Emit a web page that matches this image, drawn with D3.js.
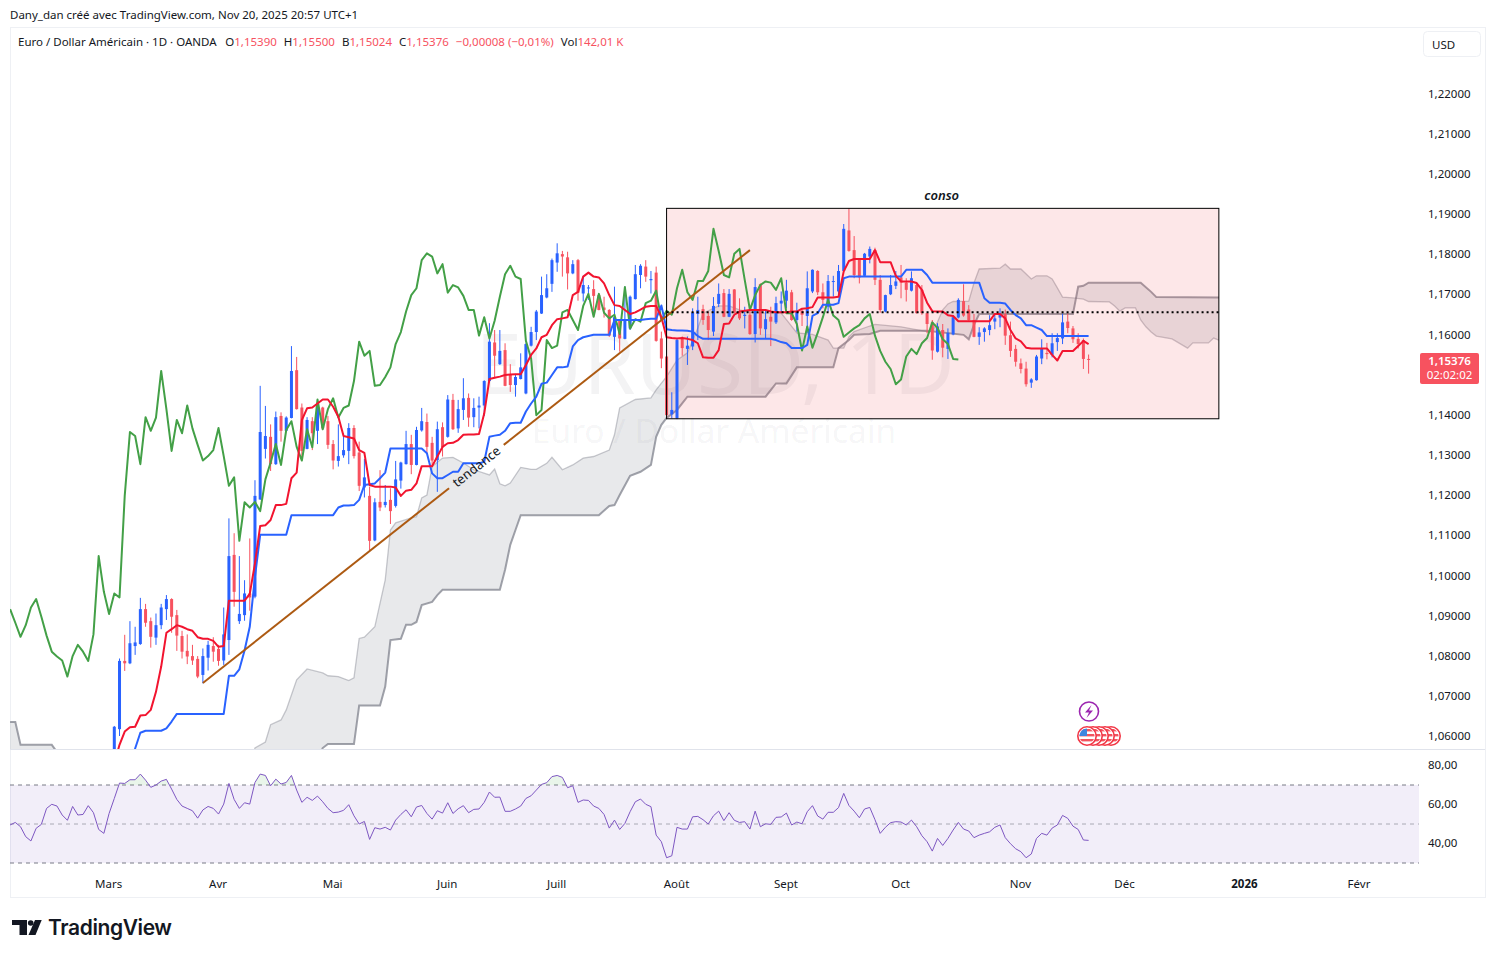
<!DOCTYPE html>
<html>
<head>
<meta charset="utf-8">
<title>EURUSD 1D</title>
<script src="https://cdn.jsdelivr.net/npm/d3@7"></script>
<style>
  html, body { margin: 0; padding: 0; background: #fff; }
  svg { display: block; font-family: "Noto Sans", sans-serif; }
</style>
</head>
<body>
<div id="chart"></div>
<script>
// candles, bar 0 = 4 March 2025, bar 187 = 20 Nov 2025
const opens = [
1.0480,1.0617,1.0787,1.0781,1.0824,1.0829,1.0916,1.0886,1.0845,1.0876,
1.0916,1.0941,1.0901,1.0849,1.0812,1.0799,1.0792,1.0752,1.0795,1.0824,
1.0817,1.0788,1.0839,1.1051,1.0886,1.0901,1.0955,1.0947,1.1189,1.1315,
1.1345,1.1277,1.1397,1.1360,1.1392,1.1511,1.1418,1.1315,1.1384,1.1360,
1.1418,1.1384,1.1327,1.1285,1.1299,1.1310,1.1367,1.1306,1.1219,1.1198,
1.1087,1.1183,1.1175,1.1188,1.1173,1.1236,1.1277,1.1327,1.1275,1.1361,
1.1382,1.1330,1.1287,1.1369,1.1345,1.1437,1.1366,1.1412,1.1442,1.1394,
1.1418,1.1423,1.1484,1.1580,1.1526,1.1561,1.1499,1.1474,1.1489,1.1453,
1.1572,1.1606,1.1652,1.1692,1.1726,1.1779,1.1800,1.1792,1.1752,1.1785,
1.1702,1.1716,1.1713,1.1698,1.1667,1.1661,1.1594,1.1634,1.1589,1.1615,
1.1688,1.1748,1.1769,1.1735,1.1754,1.1590,1.1545,1.1401,1.1391,1.1591,
1.1564,1.1570,1.1651,1.1663,1.1646,1.1607,1.1676,1.1703,1.1644,1.1712,
1.1655,1.1646,1.1649,1.1601,1.1725,1.1613,1.1644,1.1630,1.1677,1.1684,
1.1705,1.1636,1.1659,1.1646,1.1707,1.1758,1.1705,1.1669,1.1731,1.1707,
1.1758,1.1859,1.1810,1.1787,1.1746,1.1794,1.1810,1.1736,1.1657,1.1700,
1.1721,1.1742,1.1729,1.1709,1.1723,1.1711,1.1653,1.1630,1.1557,1.1611,
1.1564,1.1600,1.1642,1.1683,1.1662,1.1636,1.1594,1.1606,1.1611,1.1632,
1.1642,1.1651,1.1598,1.1564,1.1528,1.1515,1.1480,1.1486,1.1540,1.1554,
1.1549,1.1581,1.1590,1.1632,1.1615,1.1589,1.1586,1.15390]
const highs = [
1.0625,1.0793,1.0852,1.0886,1.0872,1.0944,1.0929,1.0895,1.0905,1.0929,
1.0951,1.0943,1.0914,1.0862,1.0853,1.0827,1.0799,1.0818,1.0837,1.0846,
1.0827,1.0920,1.1142,1.1105,1.1048,1.0988,1.1092,1.1237,1.1472,1.1422,
1.1376,1.1408,1.1406,1.1396,1.1571,1.1544,1.1428,1.1394,1.1394,1.1430,
1.1420,1.1397,1.1337,1.1376,1.1354,1.1379,1.1374,1.1333,1.1290,1.1221,
1.1192,1.1262,1.1225,1.1217,1.1285,1.1283,1.1360,1.1350,1.1370,1.1417,
1.1403,1.1345,1.1383,1.1381,1.1449,1.1452,1.1437,1.1491,1.1453,1.1441,
1.1445,1.1486,1.1628,1.1611,1.1611,1.1578,1.1526,1.1500,1.1553,1.1578,
1.1619,1.1661,1.1744,1.1750,1.1789,1.1827,1.1808,1.1806,1.1785,1.1788,
1.1746,1.1723,1.1735,1.1702,1.1694,1.1663,1.1719,1.1636,1.1719,1.1697,
1.1773,1.1775,1.1785,1.1758,1.1769,1.1607,1.1547,1.1456,1.1590,1.1595,
1.1595,1.1665,1.1694,1.1674,1.1657,1.1693,1.1727,1.1713,1.1713,1.1713,
1.1690,1.1669,1.1661,1.1740,1.1727,1.1661,1.1669,1.1694,1.1707,1.1736,
1.1711,1.1679,1.1665,1.1757,1.1762,1.1760,1.1727,1.1748,1.1746,1.1773,
1.1875,1.1914,1.1845,1.1788,1.1803,1.1819,1.1816,1.1748,1.1699,1.1748,
1.1758,1.1773,1.1740,1.1757,1.1727,1.1723,1.1654,1.1636,1.1628,1.1626,
1.1615,1.1648,1.1690,1.1725,1.1673,1.1651,1.1618,1.1618,1.1648,1.1651,
1.1665,1.1662,1.1632,1.1574,1.1540,1.1532,1.1491,1.1549,1.1588,1.1579,
1.1603,1.1603,1.1652,1.1652,1.1621,1.1603,1.1590,1.15500]
const lows = [
1.0460,1.0600,1.0762,1.0779,1.0802,1.0827,1.0872,1.0820,1.0827,1.0866,
1.0889,1.0857,1.0812,1.0793,1.0779,1.0777,1.0744,1.0731,1.0763,1.0785,
1.0775,1.0777,1.0802,1.0922,1.0879,1.0887,1.0912,1.0943,1.1188,1.1291,
1.1260,1.1275,1.1333,1.1358,1.1391,1.1413,1.1287,1.1314,1.1312,1.1327,
1.1362,1.1315,1.1264,1.1271,1.1293,1.1277,1.1291,1.1210,1.1194,1.1062,
1.1085,1.1160,1.1169,1.1128,1.1169,1.1216,1.1276,1.1252,1.1274,1.1358,
1.1305,1.1271,1.1208,1.1296,1.1343,1.1362,1.1355,1.1387,1.1370,1.1369,
1.1366,1.1397,1.1482,1.1491,1.1524,1.1471,1.1457,1.1445,1.1488,1.1451,
1.1570,1.1586,1.1651,1.1690,1.1706,1.1756,1.1744,1.1712,1.1750,1.1684,
1.1682,1.1686,1.1644,1.1660,1.1642,1.1594,1.1561,1.1557,1.1588,1.1611,
1.1687,1.1715,1.1731,1.1702,1.1582,1.1516,1.1397,1.1391,1.1389,1.1547,
1.1524,1.1561,1.1586,1.1624,1.1586,1.1596,1.1668,1.1643,1.1643,1.1652,
1.1636,1.1615,1.1599,1.1580,1.1599,1.1591,1.1571,1.1626,1.1653,1.1665,
1.1634,1.1607,1.1621,1.1603,1.1703,1.1698,1.1665,1.1657,1.1694,1.1694,
1.1756,1.1806,1.1740,1.1727,1.1744,1.1777,1.1723,1.1654,1.1655,1.1698,
1.1713,1.1690,1.1682,1.1707,1.1652,1.1649,1.1603,1.1537,1.1555,1.1543,
1.1539,1.1598,1.1640,1.1644,1.1634,1.1593,1.1574,1.1582,1.1598,1.1613,
1.1618,1.1574,1.1544,1.1520,1.1503,1.1470,1.1467,1.1485,1.1526,1.1538,
1.1543,1.1559,1.1576,1.1603,1.1579,1.1565,1.1514,1.15024]
const closes = [
1.0623,1.0787,1.0781,1.0831,1.0833,1.0916,1.0882,1.0847,1.0876,1.0920,
1.0941,1.0897,1.0850,1.0810,1.0798,1.0788,1.0748,1.0799,1.0827,1.0810,
1.0787,1.0853,1.1048,1.0959,1.0904,1.0955,1.0945,1.1198,1.1357,1.1347,
1.1277,1.1394,1.1360,1.1393,1.1509,1.1414,1.1310,1.1387,1.1354,1.1423,
1.1366,1.1325,1.1286,1.1297,1.1312,1.1367,1.1297,1.1223,1.1244,1.1086,
1.1182,1.1169,1.1183,1.1160,1.1239,1.1281,1.1327,1.1275,1.1362,1.1384,
1.1320,1.1286,1.1364,1.1319,1.1438,1.1364,1.1414,1.1441,1.1393,1.1417,
1.1423,1.1484,1.1582,1.1547,1.1559,1.1472,1.1474,1.1494,1.1518,1.1576,
1.1606,1.1657,1.1698,1.1715,1.1785,1.1802,1.1794,1.1752,1.1775,1.1704,
1.1723,1.1717,1.1696,1.1661,1.1661,1.1597,1.1643,1.1590,1.1634,1.1694,
1.1750,1.1771,1.1744,1.1738,1.1584,1.1540,1.1399,1.1412,1.1586,1.1566,
1.1572,1.1655,1.1661,1.1636,1.1611,1.1671,1.1701,1.1644,1.1701,1.1654,
1.1640,1.1649,1.1601,1.1718,1.1615,1.1638,1.1632,1.1678,1.1684,1.1709,
1.1636,1.1659,1.1649,1.1715,1.1761,1.1705,1.1686,1.1733,1.1733,1.1758,
1.1863,1.1808,1.1748,1.1742,1.1801,1.1813,1.1736,1.1661,1.1698,1.1723,
1.1732,1.1729,1.1711,1.1740,1.1653,1.1653,1.1626,1.1560,1.1620,1.1567,
1.1604,1.1643,1.1686,1.1647,1.1636,1.1594,1.1605,1.1615,1.1623,1.1640,
1.1651,1.1597,1.1559,1.1532,1.1514,1.1476,1.1488,1.1545,1.1564,1.1551,
1.1578,1.1591,1.1630,1.1616,1.1588,1.1576,1.1539,1.15376]

// ichimoku lines
const tenkan = [
1.0532,1.0578,1.0611,1.0622,1.0623,1.0651,1.0652,1.0665,1.0710,1.0773,
1.0857,1.0866,1.0876,1.0872,1.0866,1.0862,1.0846,1.0842,1.0842,1.0837,
1.0822,1.0824,1.0937,1.0937,1.0937,1.0937,1.0954,1.1030,1.1123,1.1125,
1.1138,1.1175,1.1175,1.1178,1.1242,1.1256,1.1387,1.1416,1.1418,1.1428,
1.1438,1.1438,1.1420,1.1395,1.1347,1.1344,1.1341,1.1312,1.1305,1.1225,
1.1221,1.1221,1.1221,1.1221,1.1219,1.1198,1.1211,1.1213,1.1229,1.1272,
1.1272,1.1272,1.1296,1.1320,1.1329,1.1330,1.1337,1.1350,1.1351,1.1351,
1.1352,1.1403,1.1489,1.1492,1.1495,1.1499,1.1500,1.1501,1.1501,1.1524,
1.1549,1.1565,1.1593,1.1599,1.1623,1.1638,1.1640,1.1643,1.1698,1.1706,
1.1744,1.1754,1.1744,1.1742,1.1727,1.1698,1.1673,1.1671,1.1661,1.1651,
1.1655,1.1662,1.1669,1.1671,1.1671,1.1643,1.1593,1.1591,1.1590,1.1591,
1.1589,1.1586,1.1578,1.1543,1.1542,1.1542,1.1561,1.1626,1.1627,1.1649,
1.1657,1.1659,1.1661,1.1661,1.1661,1.1661,1.1657,1.1655,1.1655,1.1655,
1.1657,1.1657,1.1664,1.1665,1.1668,1.1692,1.1692,1.1692,1.1692,1.1694,
1.1757,1.1783,1.1788,1.1788,1.1788,1.1788,1.1810,1.1780,1.1780,1.1780,
1.1746,1.1732,1.1732,1.1732,1.1728,1.1711,1.1679,1.1658,1.1657,1.1657,
1.1648,1.1646,1.1633,1.1633,1.1633,1.1633,1.1633,1.1633,1.1633,1.1651,
1.1651,1.1640,1.1611,1.1590,1.1583,1.1567,1.1565,1.1565,1.1565,1.1565,
1.1549,1.1535,1.1559,1.1559,1.1559,1.1571,1.1584,1.1576]
const kijunStart = 3
const kijun = [
1.0515,1.0569,1.0608,1.0613,1.0613,1.0613,1.0613,1.0619,1.0636,
1.0655,1.0655,1.0655,1.0655,1.0655,1.0655,1.0655,1.0655,1.0655,1.0655,
1.0750,1.0750,1.0766,1.0813,1.0872,1.0997,
1.1101,1.1101,1.1101,1.1101,1.1101,1.1101,
1.1150,1.1150,1.1150,1.1150,1.1150,1.1150,1.1150,1.1150,1.1150,
1.1169,1.1174,1.1174,1.1175,1.1188,1.1225,1.1227,1.1229,1.1242,1.1256,
1.1316,1.1316,1.1316,1.1316,1.1316,1.1316,1.1316,
1.1304,1.1254,1.1242,1.1242,1.1250,1.1258,1.1258,
1.1279,1.1279,1.1279,1.1279,1.1283,1.1345,1.1348,1.1350,1.1360,1.1379,1.1380,1.1380,
1.1408,1.1428,1.1445,1.1477,1.1480,1.1499,1.1518,1.1518,1.1520,1.1570,1.1586,1.1593,1.1596,
1.1599,1.1599,1.1599,1.1599,
1.1636,1.1636,1.1636,1.1636,1.1636,1.1636,1.1638,1.1639,1.1639,1.1672,1.1613,1.1611,
1.1610,1.1610,1.1609,1.1607,1.1596,
1.1589,1.1589,1.1589,1.1589,1.1589,1.1589,1.1589,1.1589,1.1589,1.1589,1.1589,1.1589,1.1589,1.1589,
1.1586,1.1581,1.1578,1.1566,1.1566,1.1566,1.1574,1.1646,1.1653,1.1674,1.1674,1.1674,1.1678,1.1740,
1.1744,1.1744,1.1744,1.1744,1.1744,1.1744,1.1744,1.1744,1.1744,1.1744,1.1744,
1.1761,1.1761,1.1761,1.1761,1.1748,
1.1729,1.1729,1.1729,1.1729,1.1729,1.1729,1.1729,1.1729,1.1729,1.1729,
1.1690,1.1679,1.1679,1.1679,1.1677,1.1661,1.1648,1.1640,1.1623,1.1623,1.1617,1.1611,
1.1596,1.1596,1.1596,1.1596,1.1596,1.1596,1.1596,1.1596,1.1596]
const chikouStart = -20
const chikou = [
1.0916,1.0882,1.0847,1.0876,1.0920,
1.0941,1.0897,1.0850,1.0810,1.0798,1.0788,1.0748,1.0799,1.0827,1.0810,
1.0787,1.0853,1.1048,1.0959,1.0904,1.0955,1.0945,1.1198,1.1357,1.1347,
1.1277,1.1394,1.1360,1.1393,1.1509,1.1414,1.1310,1.1387,1.1354,1.1423,
1.1366,1.1325,1.1286,1.1297,1.1312,1.1367,1.1297,1.1223,1.1244,1.1086,
1.1182,1.1169,1.1183,1.1160,1.1239,1.1281,1.1327,1.1275,1.1362,1.1384,
1.1320,1.1286,1.1364,1.1319,1.1438,1.1364,1.1414,1.1441,1.1393,1.1417,
1.1423,1.1484,1.1582,1.1547,1.1559,1.1472,1.1474,1.1494,1.1518,1.1576,
1.1606,1.1657,1.1698,1.1715,1.1785,1.1802,1.1794,1.1752,1.1775,1.1704,
1.1723,1.1717,1.1696,1.1661,1.1661,1.1597,1.1643,1.1590,1.1634,1.1694,
1.1750,1.1771,1.1744,1.1738,1.1584,1.1540,1.1399,1.1412,1.1586,1.1566,
1.1572,1.1655,1.1661,1.1636,1.1611,1.1671,1.1701,1.1644,1.1701,1.1654,
1.1640,1.1649,1.1601,1.1718,1.1615,1.1638,1.1632,1.1678,1.1684,1.1709,
1.1636,1.1659,1.1649,1.1715,1.1761,1.1705,1.1686,1.1733,1.1733,1.1758,
1.1863,1.1808,1.1748,1.1742,1.1801,1.1813,1.1736,1.1661,1.1698,1.1723,
1.1732,1.1729,1.1711,1.1740,1.1653,1.1653,1.1626,1.1560,1.1620,1.1567,
1.1604,1.1643,1.1686,1.1647,1.1636,1.1594,1.1605,1.1615,1.1623,1.1640,
1.1651,1.1597,1.1559,1.1532,1.1514,1.1476,1.1488,1.1545,1.1564,1.1551,
1.1578,1.1591,1.1630,1.1616,1.1588,1.1576,1.1539,1.15376]

// cloud edges, only the bars where the edge turns
const spanABars = [-20,20,26,27,29,30,32,33,35,37,40,41,43,45,46,47,48,50,52,53,54,57,58,59,60,61,63,65,67,69,72,73,74,75,76,78,80,81,83,84,86,88,90,92,95,96,97,100,103,104,106,108,110,112,113,116,118,120,123,128,131,134,137,138,140,141,142,145,146,151,156,157,158,159,160,161,164,165,166,170,171,172,174,176,177,179,180,181,182,184,186,187,191,192,193,194,196,197,198,199,200,203,206,207,210,211,212]
const spanAVals = [1.0450,1.0450,1.0530,1.0570,1.0585,1.0628,1.0640,1.0665,1.0740,1.0767,1.0757,1.0750,1.0748,1.0738,1.0745,1.0843,1.0846,1.0872,1.0989,1.1113,1.1131,1.1143,1.1146,1.1193,1.1200,1.1271,1.1292,1.1294,1.1280,1.1263,1.1250,1.1265,1.1228,1.1223,1.1230,1.1269,1.1264,1.1264,1.1279,1.1294,1.1263,1.1275,1.1292,1.1296,1.1312,1.1350,1.1417,1.1438,1.1442,1.1462,1.1495,1.1536,1.1554,1.1616,1.1653,1.1671,1.1671,1.1661,1.1653,1.1653,1.1604,1.1600,1.1586,1.1566,1.1566,1.1594,1.1607,1.1621,1.1625,1.1619,1.1607,1.1607,1.1631,1.1661,1.1676,1.1682,1.1683,1.1728,1.1763,1.1765,1.1775,1.1763,1.1763,1.1738,1.1746,1.1746,1.1738,1.1716,1.1693,1.1691,1.1688,1.1682,1.1681,1.1671,1.1658,1.1666,1.1666,1.1636,1.1619,1.1606,1.1596,1.1589,1.1566,1.1579,1.1579,1.1591,1.1586]
const spanBBars = [-20,-19,-18,-12,-11,-9,39,40,41,46,47,51,52,53,55,56,57,58,59,61,62,63,74,75,76,77,78,93,95,96,97,99,101,103,104,105,106,108,110,125,127,129,131,138,139,141,142,145,147,156,163,164,165,166,184,185,186,187,197,199,200,212]
const spanBVals = [1.0635,1.0635,1.0578,1.0578,1.0560,1.0540,1.0540,1.0570,1.0580,1.0580,1.0676,1.0676,1.0723,1.0839,1.0842,1.0877,1.0877,1.0884,1.0926,1.0934,1.0951,1.0964,1.0964,1.1014,1.1076,1.1113,1.1150,1.1150,1.1173,1.1175,1.1200,1.1248,1.1258,1.1275,1.1345,1.1375,1.1392,1.1412,1.1445,1.1445,1.1478,1.1478,1.1518,1.1518,1.1566,1.1586,1.1599,1.1601,1.1609,1.1609,1.1599,1.1588,1.1624,1.1651,1.1651,1.1719,1.1721,1.1729,1.1729,1.1706,1.1693,1.1692]

// rsi, one value per bar from bar -20
const rsiStart = -20
const rsi = [
49.5,50.8,48.6,43.5,41.3,47.8,49.8,58,60.1,59.2,54.6,51.9,59,54.6,54.9,59.4,55.8,47.2,45.2,55.4,
63.1,71,70.8,72.7,72.7,75.6,72.5,68.8,70,72,72.9,67.9,62.6,59.2,58,56.8,53,57.2,59,58,
55.1,60.2,70.8,62.6,58,60.9,60.2,71.3,75.6,74.9,69.6,73,70.5,71.3,74.9,67.4,61.1,63.7,62.1,64.3,
61.4,58,55.8,56.1,57,59.9,54.2,50,51.3,42.1,48.1,47.4,48.3,46.9,52,54.9,57.3,53.7,58.7,59.5,
55.4,52.5,56.8,55.6,60.9,55.4,57.8,59.4,55.8,57.5,57.7,61.1,66.4,63.7,63.8,56.5,56.5,57.7,59.2,63.1,
64.5,67.4,70.3,71.2,74.3,74.9,73.9,68.6,69.6,61.1,62.3,62.1,59.2,58,54.9,47.9,52,47.2,50.3,56.3,
61.4,62.8,60.1,58.9,44.3,40.9,32.7,33.7,48.3,47.4,47.4,53.7,53.9,52.2,50,54.2,56.6,51.7,55.8,51.9,50.8,
51.2,47.4,56.6,48.6,50.1,49.8,53.4,53.6,55.6,49.5,51,50.1,56.3,59.4,54.1,52.5,56,56,58.4,65.7,
59.5,56.6,53.2,57.7,58.5,52.2,45.2,48.3,50.7,51.2,51,49.5,52,48.6,44,40.9,36.1,42.6,39,42.6,
46.9,50.8,47.4,46.4,43,44.3,45.2,46,48.3,49.5,43,39.9,37.3,35.8,32.7,34.6,42.6,45.2,44.3,47.9,
49.5,54.4,52.9,48.9,47.2,41.8,41.6]
const rsiBands = [70, 50, 30]
const rsiTicks = [80, 60, 40]

// axes
const priceTicks = [1.22,1.21,1.20,1.19,1.18,1.17,1.16,1.15,1.14,1.13,1.12,1.11,1.10,1.09,1.08,1.07,1.06]
const monthLabels = ["Mars","Avr","Mai","Juin","Juill","Août","Sept","Oct","Nov","Déc","2026","Févr"]
const monthBars = [-1,20,42,64,85,108,129,151,174,194,217,239]

// drawings
const consoBars = [106, 212]
const consoPrices = [1.1914, 1.1390]
const consoLevel = 1.1655
const trendBars = [17, 122]
const trendPrices = [1.0732, 1.1810]

const width = 1495, height = 958
const blue = "#2962ff", red = "#f7525f"

const svg = d3.select("#chart").append("svg")
    .attr("width", width)
    .attr("height", height)

let x = d3.scaleLinear().domain([0, 187]).range([114.3, 1088.6])
let y = d3.scaleLinear().domain([1.06, 1.22]).range([736, 93.5])
let yRsi = d3.scaleLinear().domain([30, 70]).range([863, 785])

svg.append("text").attr("x", 10).attr("y", 18.5).attr("font-size", 11.5).attr("fill", "#131722")
    .text("Dany_dan créé avec TradingView.com, Nov 20, 2025 20:57 UTC+1")

// frame and pane separator
svg.append("rect").attr("x", 10.5).attr("y", 27.5).attr("width", 1475).attr("height", 870)
    .attr("fill", "#fff").attr("stroke", "#eef0f4")
svg.append("line").attr("x1", 10).attr("x2", 1485).attr("y1", 749.5).attr("y2", 749.5).attr("stroke", "#e0e3eb")

let defs = svg.append("defs")
defs.append("clipPath").attr("id", "pane").append("rect")
    .attr("x", 10).attr("y", 28).attr("width", 1409).attr("height", 721)
defs.append("clipPath").attr("id", "overbought").append("rect")
    .attr("x", 10).attr("y", 750).attr("width", 1409).attr("height", 35)

let pane = svg.append("g").attr("clip-path", "url(#pane)")

// watermark
pane.append("text").attr("x", 715).attr("y", 394).attr("text-anchor", "middle")
    .attr("font-size", 84).attr("fill", "#131722").attr("fill-opacity", 0.05).text("EURUSD, 1D")
pane.append("text").attr("x", 714).attr("y", 443).attr("text-anchor", "middle")
    .attr("font-size", 33.5).attr("fill", "#131722").attr("fill-opacity", 0.055).text("Euro / Dollar Américain")

// cloud
let spanA = spanABars.map((b, i) => [b, spanAVals[i]])
let spanB = spanBBars.map((b, i) => [b, spanBVals[i]])
let priceLine = d3.line().x(d => x(d[0])).y(d => y(d[1]))
pane.append("path").attr("d", priceLine(spanA.concat(spanB.slice().reverse())) + "Z")
    .attr("fill", "#787b86").attr("fill-opacity", 0.17)
pane.append("path").attr("d", priceLine(spanA)).attr("fill", "none").attr("stroke", "#787b86")
    .attr("stroke-opacity", 0.4).attr("stroke-width", 1.3)
pane.append("path").attr("d", priceLine(spanB)).attr("fill", "none").attr("stroke", "#787b86")
    .attr("stroke-opacity", 0.7).attr("stroke-width", 2)

// conso box
pane.append("rect")
    .attr("x", x(consoBars[0])).attr("y", y(consoPrices[0]))
    .attr("width", x(consoBars[1]) - x(consoBars[0])).attr("height", y(consoPrices[1]) - y(consoPrices[0]))
    .attr("fill", "#f23645").attr("fill-opacity", 0.12)

// candles
let candles = pane.append("g").selectAll("g")
    .data(opens.map((o, i) => ({i, o, h: highs[i], l: lows[i], c: closes[i]})))
    .join("g")
    .attr("fill", d => d.c >= d.o ? blue : red)
candles.append("rect")
    .attr("x", d => x(d.i) - 0.5).attr("width", 1)
    .attr("y", d => y(d.h)).attr("height", d => y(d.l) - y(d.h))
candles.append("rect")
    .attr("x", d => x(d.i) - 1.5).attr("width", 3)
    .attr("y", d => y(Math.max(d.o, d.c)))
    .attr("height", d => Math.max(1, Math.abs(y(d.o) - y(d.c))))

// ichimoku lines
let addLine = (values, start, color) => pane.append("path")
    .attr("d", priceLine(values.map((v, i) => [start + i, v])))
    .attr("fill", "none").attr("stroke", color).attr("stroke-width", 2).attr("stroke-linejoin", "round")
addLine(chikou, chikouStart, "#43a047")
addLine(kijun, kijunStart, "#2962ff")
addLine(tenkan, 0, "#f2142f")

// trend line, with the gap for its text
let tx = d3.scaleLinear().domain([0, 1]).range([x(trendBars[0]), x(trendBars[1])])
let ty = d3.scaleLinear().domain([0, 1]).range([y(trendPrices[0]), y(trendPrices[1])])
let trend = pane.append("g").attr("stroke", "#ad5a12").attr("stroke-width", 2)
trend.append("line").attr("x1", tx(0)).attr("y1", ty(0)).attr("x2", tx(0.45)).attr("y2", ty(0.45))
trend.append("line").attr("x1", tx(0.55)).attr("y1", ty(0.55)).attr("x2", tx(1)).attr("y2", ty(1))
let angle = Math.atan2(ty(1) - ty(0), tx(1) - tx(0)) * 180 / Math.PI
pane.append("text")
    .attr("transform", `translate(${tx(0.5)},${ty(0.5)}) rotate(${angle})`)
    .attr("text-anchor", "middle").attr("dy", "0.35em").attr("font-size", 13).attr("fill", "#131722")
    .text("tendance")

// conso border and level
pane.append("rect")
    .attr("x", x(consoBars[0])).attr("y", y(consoPrices[0]))
    .attr("width", x(consoBars[1]) - x(consoBars[0])).attr("height", y(consoPrices[1]) - y(consoPrices[0]))
    .attr("fill", "none").attr("stroke", "#000").attr("stroke-width", 1)
pane.append("line")
    .attr("x1", x(consoBars[0])).attr("x2", x(consoBars[1]))
    .attr("y1", y(consoLevel)).attr("y2", y(consoLevel))
    .attr("stroke", "#000").attr("stroke-width", 2).attr("stroke-dasharray", "2 3")
pane.append("text").attr("x", (x(consoBars[0]) + x(consoBars[1])) / 2 - 1).attr("y", 200)
    .attr("text-anchor", "middle").attr("font-size", 13).attr("font-style", "italic")
    .attr("font-weight", 600).attr("fill", "#131722").text("conso")

// event icons
let ev = svg.append("g")
ev.append("circle").attr("cx", 1089).attr("cy", 711.5).attr("r", 9.5)
    .attr("fill", "#fff").attr("stroke", "#9c27b0").attr("stroke-width", 1.6)
ev.append("path").attr("d", "M1091.5 705 L1085 712.5 L1089 712.5 L1086.5 718 L1093 710.5 L1089 710.5 Z").attr("fill", "#9c27b0")
defs.append("clipPath").attr("id", "flag").append("circle").attr("r", 7.6)
;[1111, 1105, 1099, 1093, 1087].forEach(cx => {
    let f = ev.append("g").attr("transform", `translate(${cx},736)`)
    f.append("circle").attr("r", 9.2).attr("fill", "#fff").attr("stroke", "#f23645").attr("stroke-width", 1.6)
    let c = f.append("g").attr("clip-path", "url(#flag)")
    c.append("rect").attr("x", -8).attr("y", -8).attr("width", 16).attr("height", 16).attr("fill", "#fff")
    ;[-7, -2, 3].forEach(s => c.append("rect").attr("x", -8).attr("y", s).attr("width", 16).attr("height", 2.4).attr("fill", "#f2545f"))
    c.append("rect").attr("x", -8).attr("y", -8).attr("width", 8).attr("height", 8).attr("fill", "#3d86e0")
})

// rsi pane
let rsiPane = svg.append("g")
rsiPane.append("rect").attr("x", 10).attr("width", 1409).attr("y", yRsi(70)).attr("height", yRsi(30) - yRsi(70))
    .attr("fill", "#7e57c2").attr("fill-opacity", 0.1)
rsiPane.selectAll("line").data(rsiBands).join("line")
    .attr("x1", 10).attr("x2", 1419).attr("y1", d => yRsi(d)).attr("y2", d => yRsi(d))
    .attr("stroke", "#787b86").attr("stroke-width", 1)
    .attr("stroke-opacity", d => d == 50 ? 0.6 : 1)
    .attr("stroke-dasharray", "4 4")
let rsiPoints = rsi.map((v, i) => [rsiStart + i, v])
rsiPane.append("path").attr("clip-path", "url(#overbought)")
    .attr("d", d3.area().x(d => x(d[0])).y0(yRsi(70)).y1(d => yRsi(d[1]))(rsiPoints))
    .attr("fill", "#4caf50").attr("fill-opacity", 0.12)
rsiPane.append("path")
    .attr("d", d3.line().x(d => x(d[0])).y(d => yRsi(d[1]))(rsiPoints))
    .attr("fill", "none").attr("stroke", "#7e57c2").attr("stroke-width", 1)

// axes
let comma = f => v => f(v).replace(".", ",")
let priceAxis = svg.append("g").attr("transform", "translate(1421,0)")
    .call(d3.axisRight(y).tickValues(priceTicks).tickSize(0).tickPadding(7).tickFormat(comma(d3.format(".5f"))))
let rsiAxis = svg.append("g").attr("transform", "translate(1421,-1)")
    .call(d3.axisRight(yRsi).tickValues(rsiTicks).tickSize(0).tickPadding(7).tickFormat(comma(d3.format(".2f"))))
let timeAxis = svg.append("g").attr("transform", "translate(-1,877)")
    .call(d3.axisBottom(x).tickValues(monthBars).tickSize(0).tickPadding(3).tickFormat((d, i) => monthLabels[i]))
;[priceAxis, rsiAxis, timeAxis].forEach(a => {
    a.select(".domain").remove()
    a.selectAll("text").attr("font-size", 11.5).attr("font-family", '"Noto Sans", sans-serif').attr("fill", "#131722")
})
timeAxis.selectAll("text").filter(d => d == 217).attr("font-weight", 700)

// legend
let legend = svg.append("text").attr("x", 18).attr("y", 46).attr("font-size", 11.5).attr("fill", "#131722")
legend.append("tspan").text("Euro / Dollar Américain · 1D · OANDA")
let legendParts = [["O", "1,15390"], ["H", "1,15500"], ["B", "1,15024"], ["C", "1,15376"], ["", "−0,00008 (−0,01%)"], ["Vol", "142,01 K"]]
legendParts.forEach((p, i) => {
    if (p[0]) legend.append("tspan").attr("dx", i == 0 ? 9 : 7).text(p[0])
    legend.append("tspan").attr("dx", p[0] ? 0 : 7).attr("fill", red).text(p[1])
})

// currency box
svg.append("rect").attr("x", 1423.5).attr("y", 31.5).attr("width", 57).attr("height", 25).attr("rx", 4)
    .attr("fill", "#fff").attr("stroke", "#eef0f4")
svg.append("text").attr("x", 1432).attr("y", 48.5).attr("font-size", 11.5).attr("fill", "#131722").text("USD")

// last price tag
svg.append("rect").attr("x", 1420).attr("y", 353).attr("width", 59).attr("height", 31).attr("rx", 2).attr("fill", red)
svg.append("text").attr("x", 1449.5).attr("y", 365).attr("text-anchor", "middle").attr("font-size", 11.5)
    .attr("font-weight", 600).attr("fill", "#fff").text("1,15376")
svg.append("text").attr("x", 1449.5).attr("y", 379).attr("text-anchor", "middle").attr("font-size", 11.5)
    .attr("fill", "#fff").text("02:02:02")

// logo
let logo = svg.append("g").attr("fill", "#131722")
logo.append("path").attr("d", "M12 920 H27 V935 H19.5 V925 H12 Z")
logo.append("circle").attr("cx", 30.7).attr("cy", 923).attr("r", 2.8)
logo.append("path").attr("d", "M41.7 920 H35 L28.5 935 H35.5 Z")
svg.append("text").attr("x", 48).attr("y", 935).attr("font-size", 21).attr("font-family", "Inter, sans-serif")
    .attr("font-weight", 600).attr("letter-spacing", -0.4).attr("fill", "#131722").text("TradingView")
</script>
</body>
</html>
